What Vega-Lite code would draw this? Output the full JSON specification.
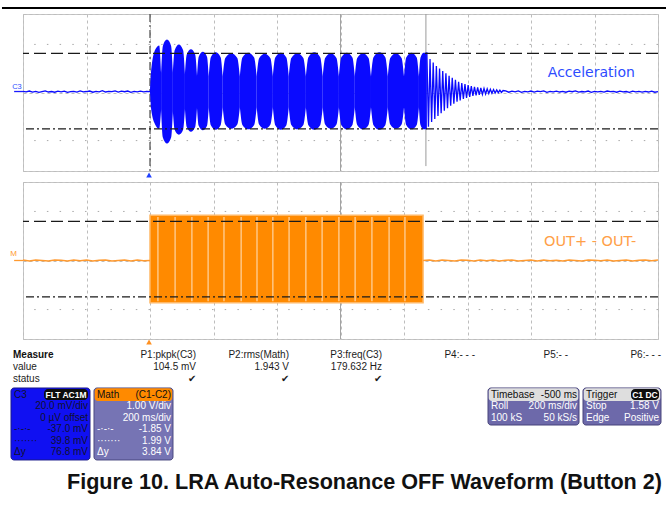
{
  "$schema": "https://vega.github.io/schema/vega-lite/v6.json",
  "background": "white",
  "padding": {"left": 0, "top": 6, "right": 5, "bottom": 16},
  "autosize": {"type": "pad"},
  "bounds": "flush",
  "spacing": 11,
  "title": {
    "text": "Figure 10. LRA Auto-Resonance OFF Waveform (Button 2)",
    "orient": "bottom", "anchor": "end", "frame": "group", "dx": 4, "offset": 12,
    "font": "Liberation Sans", "fontSize": 21.6, "fontWeight": "bold", "color": "#111111"
  },
  "config": {
    "view": {"stroke": "#c6c6c6", "strokeWidth": 1},
    "axis": {"labels": false, "ticks": false, "domain": false, "grid": true, "gridColor": "#bdbdbd", "gridDash": [3, 3], "gridWidth": 1},
    "font": "Liberation Sans"
  },
  "datasets": {
    "accel_lobes": [
      {"lobe": 1, "t": 0, "hi": 1.5, "lo": 0}, {"lobe": 1, "t": 4, "hi": 24, "lo": -18}, {"lobe": 1, "t": 17, "hi": 44, "lo": -33}, {"lobe": 1, "t": 29, "hi": 48, "lo": -37}, {"lobe": 1, "t": 35, "hi": 20, "lo": -17},
      {"lobe": 2, "t": 35, "hi": 20, "lo": -17}, {"lobe": 2, "t": 40.5, "hi": 47.5, "lo": -45.8}, {"lobe": 2, "t": 53.5, "hi": 54, "lo": -52}, {"lobe": 2, "t": 66.5, "hi": 47.5, "lo": -45.8}, {"lobe": 2, "t": 72, "hi": 20.5, "lo": -19},
      {"lobe": 3, "t": 72, "hi": 20.5, "lo": -19}, {"lobe": 3, "t": 77.7, "hi": 43, "lo": -38}, {"lobe": 3, "t": 91, "hi": 49, "lo": -43}, {"lobe": 3, "t": 104.3, "hi": 43, "lo": -38}, {"lobe": 3, "t": 110, "hi": 18.6, "lo": -16.6},
      {"lobe": 4, "t": 110, "hi": 18.6, "lo": -16.6}, {"lobe": 4, "t": 115.7, "hi": 38.7, "lo": -35.2}, {"lobe": 4, "t": 129, "hi": 44, "lo": -40}, {"lobe": 4, "t": 142.3, "hi": 38.7, "lo": -35.2}, {"lobe": 4, "t": 148, "hi": 17.1, "lo": -15.7},
      {"lobe": 5, "t": 148, "hi": 17.1, "lo": -15.7}, {"lobe": 5, "t": 153.5, "hi": 36.5, "lo": -33.9}, {"lobe": 5, "t": 166.5, "hi": 41.5, "lo": -38.5}, {"lobe": 5, "t": 179.5, "hi": 36.5, "lo": -33.9}, {"lobe": 5, "t": 185, "hi": 16.5, "lo": -15.3},
      {"lobe": 6, "t": 185, "hi": 16.5, "lo": -15.3}, {"lobe": 6, "t": 191.6, "hi": 36, "lo": -33.4}, {"lobe": 6, "t": 207, "hi": 41, "lo": -38}, {"lobe": 6, "t": 222.4, "hi": 36, "lo": -33.4}, {"lobe": 6, "t": 229, "hi": 16.2, "lo": -15},
      {"lobe": 7, "t": 229, "hi": 16.2, "lo": -15}, {"lobe": 7, "t": 237.1, "hi": 35.2, "lo": -32.6}, {"lobe": 7, "t": 256, "hi": 40, "lo": -37}, {"lobe": 7, "t": 274.9, "hi": 35.2, "lo": -32.6}, {"lobe": 7, "t": 283, "hi": 16.2, "lo": -15},
      {"lobe": 8, "t": 283, "hi": 16.2, "lo": -15}, {"lobe": 8, "t": 291, "hi": 35.6, "lo": -33}, {"lobe": 8, "t": 309.5, "hi": 40.5, "lo": -37.5}, {"lobe": 8, "t": 328, "hi": 35.6, "lo": -33}, {"lobe": 8, "t": 336, "hi": 16.2, "lo": -15},
      {"lobe": 9, "t": 336, "hi": 16.2, "lo": -15}, {"lobe": 9, "t": 343.7, "hi": 34.8, "lo": -32.6}, {"lobe": 9, "t": 361.5, "hi": 39.5, "lo": -37}, {"lobe": 9, "t": 379.3, "hi": 34.8, "lo": -32.6}, {"lobe": 9, "t": 387, "hi": 16.2, "lo": -15},
      {"lobe": 10, "t": 387, "hi": 16.2, "lo": -15}, {"lobe": 10, "t": 394.5, "hi": 35.6, "lo": -33.4}, {"lobe": 10, "t": 412, "hi": 40.5, "lo": -38}, {"lobe": 10, "t": 429.5, "hi": 35.6, "lo": -33.4}, {"lobe": 10, "t": 437, "hi": 16.2, "lo": -15},
      {"lobe": 11, "t": 437, "hi": 16.2, "lo": -15}, {"lobe": 11, "t": 445.1, "hi": 35.2, "lo": -33}, {"lobe": 11, "t": 464, "hi": 40, "lo": -37.5}, {"lobe": 11, "t": 482.9, "hi": 35.2, "lo": -33}, {"lobe": 11, "t": 491, "hi": 16.2, "lo": -15},
      {"lobe": 12, "t": 491, "hi": 16.2, "lo": -15}, {"lobe": 12, "t": 499, "hi": 36, "lo": -33.4}, {"lobe": 12, "t": 517.5, "hi": 41, "lo": -38}, {"lobe": 12, "t": 536, "hi": 36, "lo": -33.4}, {"lobe": 12, "t": 544, "hi": 16.2, "lo": -15},
      {"lobe": 13, "t": 544, "hi": 16.2, "lo": -15}, {"lobe": 13, "t": 551.7, "hi": 35.2, "lo": -32.6}, {"lobe": 13, "t": 569.5, "hi": 40, "lo": -37}, {"lobe": 13, "t": 587.3, "hi": 35.2, "lo": -32.6}, {"lobe": 13, "t": 595, "hi": 16.2, "lo": -15},
      {"lobe": 14, "t": 595, "hi": 16.2, "lo": -15}, {"lobe": 14, "t": 602.5, "hi": 35.6, "lo": -33}, {"lobe": 14, "t": 620, "hi": 40.5, "lo": -37.5}, {"lobe": 14, "t": 637.5, "hi": 35.6, "lo": -33}, {"lobe": 14, "t": 645, "hi": 16.2, "lo": -15},
      {"lobe": 15, "t": 645, "hi": 16.2, "lo": -15}, {"lobe": 15, "t": 652.7, "hi": 35.2, "lo": -33}, {"lobe": 15, "t": 670.5, "hi": 40, "lo": -37.5}, {"lobe": 15, "t": 688.3, "hi": 35.2, "lo": -33}, {"lobe": 15, "t": 696, "hi": 16.2, "lo": -15},
      {"lobe": 16, "t": 696, "hi": 16.2, "lo": -15}, {"lobe": 16, "t": 704, "hi": 36, "lo": -33.4}, {"lobe": 16, "t": 722.5, "hi": 41, "lo": -38}, {"lobe": 16, "t": 741, "hi": 36, "lo": -33.4}, {"lobe": 16, "t": 749, "hi": 16.2, "lo": -15},
      {"lobe": 17, "t": 749, "hi": 16.2, "lo": -15}, {"lobe": 17, "t": 756.7, "hi": 35.2, "lo": -32.6}, {"lobe": 17, "t": 774.5, "hi": 40, "lo": -37}, {"lobe": 17, "t": 792.3, "hi": 35.2, "lo": -32.6}, {"lobe": 17, "t": 800, "hi": 16.2, "lo": -15},
      {"lobe": 18, "t": 800, "hi": 16.2, "lo": -15}, {"lobe": 18, "t": 807, "hi": 35.6, "lo": -33}, {"lobe": 18, "t": 823.5, "hi": 40.5, "lo": -37.5}, {"lobe": 18, "t": 840, "hi": 35.6, "lo": -33}, {"lobe": 18, "t": 847, "hi": 16.2, "lo": -15},
      {"lobe": 19, "t": 847, "hi": 16.2, "lo": -15}, {"lobe": 19, "t": 852, "hi": 35.6, "lo": -33}, {"lobe": 19, "t": 862, "hi": 40.5, "lo": -37.5}, {"lobe": 19, "t": 872, "hi": 40.5, "lo": -37.5}
    ],
    "accel_trace": [
      {"seg": "pre", "t": -400, "v": 1.2}, {"seg": "pre", "t": -390, "v": 0.6}, {"seg": "pre", "t": -380, "v": 1.5}, {"seg": "pre", "t": -370, "v": 0.4}, {"seg": "pre", "t": -360, "v": 1.1},
      {"seg": "pre", "t": -350, "v": 0.2}, {"seg": "pre", "t": -340, "v": 0.9}, {"seg": "pre", "t": -330, "v": 1.6}, {"seg": "pre", "t": -320, "v": 0.5}, {"seg": "pre", "t": -310, "v": 1.0},
      {"seg": "pre", "t": -300, "v": 0.3}, {"seg": "pre", "t": -290, "v": 1.3}, {"seg": "pre", "t": -280, "v": 0.7}, {"seg": "pre", "t": -270, "v": 1.4}, {"seg": "pre", "t": -260, "v": 0.1},
      {"seg": "pre", "t": -250, "v": 0.8}, {"seg": "pre", "t": -240, "v": 1.2}, {"seg": "pre", "t": -230, "v": 0.4}, {"seg": "pre", "t": -220, "v": 1.7}, {"seg": "pre", "t": -210, "v": 0.6},
      {"seg": "pre", "t": -200, "v": 1.0}, {"seg": "pre", "t": -190, "v": 1.5}, {"seg": "pre", "t": -180, "v": 0.3}, {"seg": "pre", "t": -170, "v": 1.1}, {"seg": "pre", "t": -160, "v": 0.7},
      {"seg": "pre", "t": -150, "v": 1.8}, {"seg": "pre", "t": -140, "v": 0.5}, {"seg": "pre", "t": -130, "v": 1.2}, {"seg": "pre", "t": -120, "v": 0.9}, {"seg": "pre", "t": -110, "v": 1.6},
      {"seg": "pre", "t": -100, "v": 0.4}, {"seg": "pre", "t": -90, "v": 1.3}, {"seg": "pre", "t": -80, "v": 0.8}, {"seg": "pre", "t": -70, "v": 1.5}, {"seg": "pre", "t": -60, "v": 0.2},
      {"seg": "pre", "t": -50, "v": 1.1}, {"seg": "pre", "t": -40, "v": 0.7}, {"seg": "pre", "t": -30, "v": 1.4}, {"seg": "pre", "t": -20, "v": 0.6}, {"seg": "pre", "t": -10, "v": 1.2},
      {"seg": "pre", "t": 0, "v": 0.8},
      {"seg": "tail", "t": 872, "v": 41}, {"seg": "tail", "t": 877, "v": -35}, {"seg": "tail", "t": 882, "v": 34}, {"seg": "tail", "t": 887, "v": -30}, {"seg": "tail", "t": 892, "v": 30.5},
      {"seg": "tail", "t": 897, "v": -27}, {"seg": "tail", "t": 902, "v": 27}, {"seg": "tail", "t": 907, "v": -24}, {"seg": "tail", "t": 912, "v": 24.5}, {"seg": "tail", "t": 917, "v": -21},
      {"seg": "tail", "t": 922, "v": 22}, {"seg": "tail", "t": 927, "v": -18.5}, {"seg": "tail", "t": 932, "v": 19.5}, {"seg": "tail", "t": 937, "v": -16}, {"seg": "tail", "t": 942, "v": 17},
      {"seg": "tail", "t": 947, "v": -13.5}, {"seg": "tail", "t": 952, "v": 15}, {"seg": "tail", "t": 957, "v": -11.5}, {"seg": "tail", "t": 962, "v": 13}, {"seg": "tail", "t": 967, "v": -9.5},
      {"seg": "tail", "t": 972, "v": 11}, {"seg": "tail", "t": 977, "v": -8}, {"seg": "tail", "t": 982, "v": 9.5}, {"seg": "tail", "t": 987, "v": -6.5}, {"seg": "tail", "t": 992, "v": 8.5},
      {"seg": "tail", "t": 997, "v": -5.5}, {"seg": "tail", "t": 1002, "v": 7.5}, {"seg": "tail", "t": 1007, "v": -4.5}, {"seg": "tail", "t": 1012, "v": 6.5}, {"seg": "tail", "t": 1017, "v": -3.5},
      {"seg": "tail", "t": 1022, "v": 5.8}, {"seg": "tail", "t": 1027, "v": -3}, {"seg": "tail", "t": 1032, "v": 5.2}, {"seg": "tail", "t": 1037, "v": -2.4}, {"seg": "tail", "t": 1042, "v": 4.6},
      {"seg": "tail", "t": 1047, "v": -1.9}, {"seg": "tail", "t": 1052, "v": 4.1}, {"seg": "tail", "t": 1057, "v": -1.5}, {"seg": "tail", "t": 1062, "v": 3.7}, {"seg": "tail", "t": 1067, "v": -1.1},
      {"seg": "tail", "t": 1072, "v": 3.3}, {"seg": "tail", "t": 1077, "v": -0.8}, {"seg": "tail", "t": 1082, "v": 3}, {"seg": "tail", "t": 1087, "v": -0.5}, {"seg": "tail", "t": 1092, "v": 2.6},
      {"seg": "tail", "t": 1097, "v": -0.2}, {"seg": "tail", "t": 1102, "v": 2.3}, {"seg": "tail", "t": 1107, "v": 0.1}, {"seg": "tail", "t": 1112, "v": 2.0},
      {"seg": "tail", "t": 1120, "v": 1.6}, {"seg": "tail", "t": 1130, "v": 0.3}, {"seg": "tail", "t": 1140, "v": 1.3}, {"seg": "tail", "t": 1150, "v": 0.6}, {"seg": "tail", "t": 1160, "v": 1.7},
      {"seg": "tail", "t": 1170, "v": 0.2}, {"seg": "tail", "t": 1180, "v": 1.2}, {"seg": "tail", "t": 1190, "v": 0.7}, {"seg": "tail", "t": 1200, "v": 1.5}, {"seg": "tail", "t": 1210, "v": 0.4},
      {"seg": "tail", "t": 1220, "v": 1.3}, {"seg": "tail", "t": 1230, "v": 0.9}, {"seg": "tail", "t": 1240, "v": 1.6}, {"seg": "tail", "t": 1250, "v": 0.2}, {"seg": "tail", "t": 1260, "v": 1.1},
      {"seg": "tail", "t": 1270, "v": 0.7}, {"seg": "tail", "t": 1280, "v": 1.4}, {"seg": "tail", "t": 1290, "v": 0.5}, {"seg": "tail", "t": 1300, "v": 1.2}, {"seg": "tail", "t": 1310, "v": 0.3},
      {"seg": "tail", "t": 1320, "v": 1.4}, {"seg": "tail", "t": 1330, "v": 0.8}, {"seg": "tail", "t": 1340, "v": 1.6}, {"seg": "tail", "t": 1350, "v": 0.4}, {"seg": "tail", "t": 1360, "v": 1.0},
      {"seg": "tail", "t": 1370, "v": 0.6}, {"seg": "tail", "t": 1380, "v": 1.5}, {"seg": "tail", "t": 1390, "v": 0.2}, {"seg": "tail", "t": 1400, "v": 1.2}, {"seg": "tail", "t": 1410, "v": 0.7},
      {"seg": "tail", "t": 1420, "v": 1.1}, {"seg": "tail", "t": 1430, "v": 0.4}, {"seg": "tail", "t": 1440, "v": 1.5}, {"seg": "tail", "t": 1450, "v": 0.8}, {"seg": "tail", "t": 1460, "v": 1.2},
      {"seg": "tail", "t": 1470, "v": 0.3}, {"seg": "tail", "t": 1480, "v": 1.3}, {"seg": "tail", "t": 1490, "v": 0.6}, {"seg": "tail", "t": 1500, "v": 1.0}, {"seg": "tail", "t": 1510, "v": 0.2},
      {"seg": "tail", "t": 1520, "v": 1.4}, {"seg": "tail", "t": 1530, "v": 0.7}, {"seg": "tail", "t": 1540, "v": 1.1}, {"seg": "tail", "t": 1550, "v": 0.4}, {"seg": "tail", "t": 1560, "v": 1.2},
      {"seg": "tail", "t": 1570, "v": 0.5}, {"seg": "tail", "t": 1580, "v": 1.4}, {"seg": "tail", "t": 1590, "v": 0.3}, {"seg": "tail", "t": 1600, "v": 0.9}
    ],
    "math_trace": [
      {"seg": "pre", "t": -400, "v": 0.02}, {"seg": "pre", "t": -380, "v": -0.02}, {"seg": "pre", "t": -360, "v": 0.03}, {"seg": "pre", "t": -340, "v": 0.0}, {"seg": "pre", "t": -320, "v": -0.03},
      {"seg": "pre", "t": -300, "v": 0.02}, {"seg": "pre", "t": -280, "v": 0.01}, {"seg": "pre", "t": -260, "v": -0.02}, {"seg": "pre", "t": -240, "v": 0.03}, {"seg": "pre", "t": -220, "v": -0.01},
      {"seg": "pre", "t": -200, "v": 0.02}, {"seg": "pre", "t": -180, "v": -0.03}, {"seg": "pre", "t": -160, "v": 0.01}, {"seg": "pre", "t": -140, "v": 0.03}, {"seg": "pre", "t": -120, "v": -0.02},
      {"seg": "pre", "t": -100, "v": 0.0}, {"seg": "pre", "t": -80, "v": 0.02}, {"seg": "pre", "t": -60, "v": -0.02}, {"seg": "pre", "t": -40, "v": 0.03}, {"seg": "pre", "t": -20, "v": -0.01},
      {"seg": "pre", "t": 0, "v": 0.0},
      {"seg": "post", "t": 860, "v": 0.0}, {"seg": "post", "t": 880, "v": 0.02}, {"seg": "post", "t": 900, "v": -0.02}, {"seg": "post", "t": 920, "v": 0.03}, {"seg": "post", "t": 940, "v": 0.0},
      {"seg": "post", "t": 960, "v": -0.03}, {"seg": "post", "t": 980, "v": 0.02}, {"seg": "post", "t": 1000, "v": 0.01}, {"seg": "post", "t": 1020, "v": -0.02}, {"seg": "post", "t": 1040, "v": 0.03},
      {"seg": "post", "t": 1060, "v": -0.01}, {"seg": "post", "t": 1080, "v": 0.02}, {"seg": "post", "t": 1100, "v": -0.03}, {"seg": "post", "t": 1120, "v": 0.01}, {"seg": "post", "t": 1140, "v": 0.03},
      {"seg": "post", "t": 1160, "v": -0.02}, {"seg": "post", "t": 1180, "v": 0.0}, {"seg": "post", "t": 1200, "v": 0.02}, {"seg": "post", "t": 1220, "v": -0.02}, {"seg": "post", "t": 1240, "v": 0.03},
      {"seg": "post", "t": 1260, "v": -0.01}, {"seg": "post", "t": 1280, "v": 0.01}, {"seg": "post", "t": 1300, "v": -0.03}, {"seg": "post", "t": 1320, "v": 0.02}, {"seg": "post", "t": 1340, "v": 0.0},
      {"seg": "post", "t": 1360, "v": -0.02}, {"seg": "post", "t": 1380, "v": 0.03}, {"seg": "post", "t": 1400, "v": 0.01}, {"seg": "post", "t": 1420, "v": -0.01}, {"seg": "post", "t": 1440, "v": 0.02},
      {"seg": "post", "t": 1460, "v": -0.03}, {"seg": "post", "t": 1480, "v": 0.0}, {"seg": "post", "t": 1500, "v": 0.03}, {"seg": "post", "t": 1520, "v": -0.02}, {"seg": "post", "t": 1540, "v": 0.01},
      {"seg": "post", "t": 1560, "v": 0.02}, {"seg": "post", "t": 1580, "v": -0.01}, {"seg": "post", "t": 1600, "v": 0.02}
    ],
    "math_burst": [
      {"t": 0, "hi": 2.3, "lo": -2.15},
      {"t": 860, "hi": 2.3, "lo": -2.15}
    ],
    "math_gaps": [
      {"t": 25}, {"t": 79}, {"t": 132}, {"t": 183}, {"t": 233}, {"t": 287}, {"t": 337}, {"t": 387},
      {"t": 438}, {"t": 491}, {"t": 542}, {"t": 595}, {"t": 646}, {"t": 699}, {"t": 753}, {"t": 803}
    ],
    "measure": [
      {"param": "label", "row": "head", "text": "Measure"},
      {"param": "label", "row": "value", "text": "value"},
      {"param": "label", "row": "status", "text": "status"},
      {"param": "P1", "row": "head", "text": "P1:pkpk(C3)"},
      {"param": "P1", "row": "value", "text": "104.5 mV"},
      {"param": "P1", "row": "status", "text": "✔"},
      {"param": "P2", "row": "head", "text": "P2:rms(Math)"},
      {"param": "P2", "row": "value", "text": "1.943 V"},
      {"param": "P2", "row": "status", "text": "✔"},
      {"param": "P3", "row": "head", "text": "P3:freq(C3)"},
      {"param": "P3", "row": "value", "text": "179.632 Hz"},
      {"param": "P3", "row": "status", "text": "✔"},
      {"param": "P4", "row": "head", "text": "P4:- - -"},
      {"param": "P5", "row": "head", "text": "P5:- -"},
      {"param": "P6", "row": "head", "text": "P6:- - -"}
    ],
    "boxtext": [
      {"box": "C3", "row": 0, "col": "label", "text": "C3"},
      {"box": "C3", "row": 0, "col": "badge", "text": "FLT AC1M"},
      {"box": "C3", "row": 1, "col": "value", "text": "20.0 mV/div"},
      {"box": "C3", "row": 2, "col": "value", "text": "0 µV offset"},
      {"box": "C3", "row": 3, "col": "label", "text": "-·-·-"},
      {"box": "C3", "row": 3, "col": "value", "text": "-37.0 mV"},
      {"box": "C3", "row": 4, "col": "label", "text": "·······"},
      {"box": "C3", "row": 4, "col": "value", "text": "39.8 mV"},
      {"box": "C3", "row": 5, "col": "label", "text": "Δy"},
      {"box": "C3", "row": 5, "col": "value", "text": "76.8 mV"},
      {"box": "Math", "row": 0, "col": "label", "text": "Math"},
      {"box": "Math", "row": 0, "col": "value", "text": "(C1-C2)"},
      {"box": "Math", "row": 1, "col": "value", "text": "1.00 V/div"},
      {"box": "Math", "row": 2, "col": "value", "text": "200 ms/div"},
      {"box": "Math", "row": 3, "col": "label", "text": "-·-·-"},
      {"box": "Math", "row": 3, "col": "value", "text": "-1.85 V"},
      {"box": "Math", "row": 4, "col": "label", "text": "·······"},
      {"box": "Math", "row": 4, "col": "value", "text": "1.99 V"},
      {"box": "Math", "row": 5, "col": "label", "text": "Δy"},
      {"box": "Math", "row": 5, "col": "value", "text": "3.84 V"},
      {"box": "Timebase", "row": 0, "col": "label", "text": "Timebase"},
      {"box": "Timebase", "row": 0, "col": "value", "text": "-500 ms"},
      {"box": "Timebase", "row": 1, "col": "label", "text": "Roll"},
      {"box": "Timebase", "row": 1, "col": "value", "text": "200 ms/div"},
      {"box": "Timebase", "row": 2, "col": "label", "text": "100 kS"},
      {"box": "Timebase", "row": 2, "col": "value", "text": "50 kS/s"},
      {"box": "Trigger", "row": 0, "col": "label", "text": "Trigger"},
      {"box": "Trigger", "row": 0, "col": "badge", "text": "C1 DC"},
      {"box": "Trigger", "row": 1, "col": "label", "text": "Stop"},
      {"box": "Trigger", "row": 1, "col": "value", "text": "1.58 V"},
      {"box": "Trigger", "row": 2, "col": "label", "text": "Edge"},
      {"box": "Trigger", "row": 2, "col": "value", "text": "Positive"}
    ]
  },
  "vconcat": [
    {
      "width": 635,
      "height": 157,
      "layer": [
        {"data": {"values": [{}]}, "mark": {"type": "rule", "color": "#a9a9a9", "strokeDash": [1.5, 11.2]}, "encoding": {"y": {"datum": 49}}},
        {"data": {"values": [{}]}, "mark": {"type": "rule", "color": "#a9a9a9", "strokeDash": [1.5, 11.2]}, "encoding": {"y": {"datum": -49}}},
        {"data": {"values": [{}]}, "mark": {"type": "rule", "color": "#a3a3a3", "strokeWidth": 1}, "encoding": {"x": {"datum": 600}}},
        {"data": {"values": [{}]}, "mark": {"type": "rule", "color": "#9a9a9a", "strokeWidth": 1}, "encoding": {"x": {"datum": 869}, "y": {"datum": 80}, "y2": {"datum": -75}}},
        {"data": {"values": [{}]}, "mark": {"type": "rule", "color": "#4a4a4a", "strokeWidth": 1.2, "strokeDash": [8, 3, 2, 3]}, "encoding": {"x": {"datum": 0}}},
        {"data": {"values": [{}]}, "mark": {"type": "rule", "color": "#1a1aff", "strokeWidth": 1.3}, "encoding": {"x": {"datum": -428}, "x2": {"datum": -400}, "y": {"datum": 1}}},
        {
          "data": {"name": "accel_lobes"},
          "mark": {"type": "area", "color": "#0a0aff", "interpolate": "monotone"},
          "encoding": {
            "x": {"field": "t", "type": "quantitative", "title": null,
                  "scale": {"domain": [-400, 1600], "nice": false, "zero": false},
                  "axis": {"values": [-400, -200, 0, 200, 400, 600, 800, 1000, 1200, 1400, 1600], "grid": true, "labels": false, "ticks": false, "domain": false}},
            "y": {"field": "hi", "type": "quantitative", "title": null,
                  "scale": {"domain": [-80, 80], "nice": false, "zero": false},
                  "axis": {"values": [-80, -60, -40, -20, 0, 20, 40, 60, 80], "grid": true, "labels": false, "ticks": false, "domain": false}},
            "y2": {"field": "lo"},
            "detail": {"field": "lobe", "type": "nominal"}
          }
        },
        {
          "data": {"name": "accel_trace"},
          "mark": {"type": "line", "color": "#0a0aff", "strokeWidth": 1.3},
          "encoding": {
            "x": {"field": "t", "type": "quantitative", "title": null},
            "y": {"field": "v", "type": "quantitative", "title": null},
            "detail": {"field": "seg", "type": "nominal"}
          }
        },
        {"data": {"values": [{}]}, "mark": {"type": "rule", "color": "#1a1a1a", "strokeWidth": 1.3, "strokeDash": [12, 5]}, "encoding": {"y": {"datum": 39.8}}},
        {"data": {"values": [{}]}, "mark": {"type": "rule", "color": "#1a1a1a", "strokeWidth": 1.3, "strokeDash": [8, 3, 2, 3]}, "encoding": {"y": {"datum": -37.0}}},
        {"data": {"values": [{}]}, "mark": {"type": "text", "text": "C3", "font": "Liberation Sans", "fontSize": 7.5, "color": "#2c4cff", "align": "center", "baseline": "middle"}, "encoding": {"x": {"datum": -419}, "y": {"datum": 5.6}}},
        {"data": {"values": [{}]}, "mark": {"type": "text", "text": "Acceleration", "font": "DejaVu Sans", "fontSize": 14, "color": "#2d4cff", "align": "left", "baseline": "middle"}, "encoding": {"x": {"datum": 1253}, "y": {"datum": 20.2}}},
        {"data": {"values": [{}]}, "mark": {"type": "point", "shape": "triangle-up", "filled": true, "size": 32, "color": "#2040ff", "opacity": 1}, "encoding": {"x": {"datum": -3}, "y": {"datum": -84.1}}},
        {"data": {"values": [{}]}, "mark": {"type": "rule", "color": "#000000", "strokeWidth": 2}, "encoding": {"x": {"datum": -466.2}, "x2": {"datum": 1625.2}, "y": {"datum": 86.2}}}
      ]
    },
    {
      "width": 635,
      "height": 157,
      "layer": [
        {"data": {"values": [{}]}, "mark": {"type": "rule", "color": "#a9a9a9", "strokeDash": [1.5, 11.2]}, "encoding": {"y": {"datum": 2.5}}},
        {"data": {"values": [{}]}, "mark": {"type": "rule", "color": "#a9a9a9", "strokeDash": [1.5, 11.2]}, "encoding": {"y": {"datum": -2.5}}},
        {"data": {"values": [{}]}, "mark": {"type": "rule", "color": "#a3a3a3", "strokeWidth": 1}, "encoding": {"x": {"datum": 600}}},
        {"data": {"values": [{}]}, "mark": {"type": "rule", "color": "#ff9a30", "strokeWidth": 1.3}, "encoding": {"x": {"datum": -428}, "x2": {"datum": -400}, "y": {"datum": 0}}},
        {
          "data": {"name": "math_burst"},
          "mark": {"type": "area", "color": "#ff8a00", "stroke": "#ffb866", "strokeWidth": 1.5},
          "encoding": {
            "x": {"field": "t", "type": "quantitative", "title": null,
                  "scale": {"domain": [-400, 1600], "nice": false, "zero": false},
                  "axis": {"values": [-400, -200, 0, 200, 400, 600, 800, 1000, 1200, 1400, 1600], "grid": true, "labels": false, "ticks": false, "domain": false}},
            "y": {"field": "hi", "type": "quantitative", "title": null,
                  "scale": {"domain": [-4, 4], "nice": false, "zero": false},
                  "axis": {"values": [-4, -3, -2, -1, 0, 1, 2, 3, 4], "grid": true, "labels": false, "ticks": false, "domain": false}},
            "y2": {"field": "lo"}
          }
        },
        {
          "data": {"name": "math_gaps"},
          "mark": {"type": "rule", "color": "#ffffff", "strokeWidth": 1.1, "opacity": 0.7},
          "encoding": {
            "x": {"field": "t", "type": "quantitative", "title": null},
            "y": {"datum": 2.22},
            "y2": {"datum": -2.08}
          }
        },
        {
          "data": {"name": "math_trace"},
          "mark": {"type": "line", "color": "#ff9a30", "strokeWidth": 1.5},
          "encoding": {
            "x": {"field": "t", "type": "quantitative", "title": null},
            "y": {"field": "v", "type": "quantitative", "title": null},
            "detail": {"field": "seg", "type": "nominal"}
          }
        },
        {"data": {"values": [{}]}, "mark": {"type": "rule", "color": "#1a1a1a", "strokeWidth": 1.3, "strokeDash": [12, 5]}, "encoding": {"y": {"datum": 1.99}}},
        {"data": {"values": [{}]}, "mark": {"type": "rule", "color": "#1a1a1a", "strokeWidth": 1.3, "strokeDash": [8, 3, 2, 3]}, "encoding": {"y": {"datum": -1.85}}},
        {"data": {"values": [{}]}, "mark": {"type": "text", "text": "M", "font": "Liberation Sans", "fontSize": 8, "color": "#ff9a30", "align": "center", "baseline": "middle"}, "encoding": {"x": {"datum": -430}, "y": {"datum": 0.33}}},
        {"data": {"values": [{}]}, "mark": {"type": "text", "text": "OUT+ - OUT-", "font": "DejaVu Sans", "fontSize": 14.5, "color": "#ffa048", "align": "left", "baseline": "middle"}, "encoding": {"x": {"datum": 1241}, "y": {"datum": 0.94}}},
        {"data": {"values": [{}]}, "mark": {"type": "point", "shape": "triangle-up", "filled": true, "size": 32, "color": "#ff9020", "opacity": 1}, "encoding": {"x": {"datum": -3}, "y": {"datum": -4.15}}}
      ]
    },
    {
      "width": 635,
      "height": 110,
      "view": {"stroke": null},
      "resolve": {"scale": {"x": "independent", "y": "independent"}},
      "layer": [
        {
          "data": {"name": "measure"},
          "layer": [
            {
              "transform": [{"filter": "datum.param !== 'label'"}],
              "mark": {"type": "text", "align": "right", "baseline": "middle", "font": "Liberation Sans", "fontSize": 10, "color": "#1c1c1c"},
              "encoding": {
                "x": {"field": "param", "type": "nominal", "axis": null,
                      "scale": {"type": "point", "domain": ["label", "gap", "P1", "P2", "P3", "P4", "P5", "P6"], "range": [-13, 638], "padding": 0}},
                "y": {"field": "row", "type": "nominal", "axis": null,
                      "scale": {"type": "point", "domain": ["head", "value", "status"], "range": [5, 29], "padding": 0}},
                "text": {"field": "text"}
              }
            },
            {
              "transform": [{"filter": "datum.param === 'label' && datum.row === 'head'"}],
              "mark": {"type": "text", "align": "left", "baseline": "middle", "dx": 3, "font": "Liberation Sans", "fontSize": 10, "fontWeight": "bold", "color": "#111111"},
              "encoding": {
                "x": {"field": "param", "type": "nominal", "axis": null},
                "y": {"field": "row", "type": "nominal", "axis": null},
                "text": {"field": "text"}
              }
            },
            {
              "transform": [{"filter": "datum.param === 'label' && datum.row !== 'head'"}],
              "mark": {"type": "text", "align": "left", "baseline": "middle", "dx": 3, "font": "Liberation Sans", "fontSize": 10, "color": "#1c1c1c"},
              "encoding": {
                "x": {"field": "param", "type": "nominal", "axis": null},
                "y": {"field": "row", "type": "nominal", "axis": null},
                "text": {"field": "text"}
              }
            }
          ]
        },
        {
          "layer": [
            {
              "data": {"values": [{}]},
              "mark": {"type": "rect", "color": "#1010f2", "stroke": "#1a1a8a", "strokeWidth": 1, "cornerRadius": 3},
              "encoding": {
                "x": {"datum": -0.189, "type": "quantitative", "axis": null, "scale": {"domain": [0, 10], "nice": false, "zero": false}},
                "x2": {"datum": 1.055},
                "y": {"datum": -0.614, "type": "quantitative", "axis": null, "scale": {"domain": [-3.947, 5.702], "reverse": true, "nice": false, "zero": false}},
                "y2": {"datum": 5.7}
              }
            },
            {"data": {"values": [{}]}, "mark": {"type": "rect", "color": "#7674b4", "stroke": "#4a4880", "strokeWidth": 1, "cornerRadius": 3}, "encoding": {"x": {"datum": 1.118, "axis": null}, "x2": {"datum": 2.362}, "y": {"datum": -0.614, "axis": null}, "y2": {"datum": 5.7}}},
            {"data": {"values": [{}]}, "mark": {"type": "rect", "color": "#ff8a00", "cornerRadius": 3}, "encoding": {"x": {"datum": 1.13, "axis": null}, "x2": {"datum": 2.35}, "y": {"datum": -0.6, "axis": null}, "y2": {"datum": 0.526}}},
            {"data": {"values": [{}]}, "mark": {"type": "rect", "color": "#6d69aa", "stroke": "#46437a", "strokeWidth": 1, "cornerRadius": 3}, "encoding": {"x": {"datum": 7.323, "axis": null}, "x2": {"datum": 8.756}, "y": {"datum": -0.614, "axis": null}, "y2": {"datum": 2.632}}},
            {"data": {"values": [{}]}, "mark": {"type": "rect", "color": "#dedede", "cornerRadius": 3}, "encoding": {"x": {"datum": 7.335, "axis": null}, "x2": {"datum": 8.744}, "y": {"datum": -0.6, "axis": null}, "y2": {"datum": 0.526}}},
            {"data": {"values": [{}]}, "mark": {"type": "rect", "color": "#6d69aa", "stroke": "#46437a", "strokeWidth": 1, "cornerRadius": 3}, "encoding": {"x": {"datum": 8.819, "axis": null}, "x2": {"datum": 10.047}, "y": {"datum": -0.614, "axis": null}, "y2": {"datum": 2.632}}},
            {"data": {"values": [{}]}, "mark": {"type": "rect", "color": "#dedede", "cornerRadius": 3}, "encoding": {"x": {"datum": 8.831, "axis": null}, "x2": {"datum": 10.035}, "y": {"datum": -0.6, "axis": null}, "y2": {"datum": 0.526}}},
            {"data": {"values": [{}]}, "mark": {"type": "rect", "color": "#0d0d0d", "cornerRadius": 4}, "encoding": {"x": {"datum": 0.331, "axis": null}, "x2": {"datum": 1.024}, "y": {"datum": -0.526, "axis": null}, "y2": {"datum": 0.439}}},
            {"data": {"values": [{}]}, "mark": {"type": "rect", "color": "#0d0d0d", "cornerRadius": 4}, "encoding": {"x": {"datum": 9.575, "axis": null}, "x2": {"datum": 10.016}, "y": {"datum": -0.526, "axis": null}, "y2": {"datum": 0.439}}},
            {
              "data": {"name": "boxtext"},
              "transform": [{"filter": "datum.box === 'C3' && datum.col === 'label'"}],
              "mark": {"type": "text", "align": "left", "baseline": "middle", "font": "Liberation Sans", "fontSize": 10},
              "encoding": {"x": {"datum": -0.142, "axis": null}, "y": {"field": "row", "type": "quantitative", "axis": null}, "text": {"field": "text"},
                           "color": {"condition": {"test": "datum.box === 'C3' || datum.row === 0", "value": "#101030"}, "value": "#ffffff"}}
            },
            {
              "data": {"name": "boxtext"},
              "transform": [{"filter": "datum.box === 'C3' && datum.col === 'value'"}],
              "mark": {"type": "text", "align": "right", "baseline": "middle", "font": "Liberation Sans", "fontSize": 10},
              "encoding": {"x": {"datum": 1.024, "axis": null}, "y": {"field": "row", "type": "quantitative", "axis": null}, "text": {"field": "text"},
                           "color": {"condition": {"test": "datum.box === 'C3' || datum.row === 0", "value": "#101030"}, "value": "#ffffff"}}
            },
            {
              "data": {"name": "boxtext"},
              "transform": [{"filter": "datum.box === 'Math' && datum.col === 'label'"}],
              "mark": {"type": "text", "align": "left", "baseline": "middle", "font": "Liberation Sans", "fontSize": 10},
              "encoding": {"x": {"datum": 1.165, "axis": null}, "y": {"field": "row", "type": "quantitative", "axis": null}, "text": {"field": "text"},
                           "color": {"condition": {"test": "datum.box === 'C3' || datum.row === 0", "value": "#111111"}, "value": "#ffffff"}}
            },
            {
              "data": {"name": "boxtext"},
              "transform": [{"filter": "datum.box === 'Math' && datum.col === 'value'"}],
              "mark": {"type": "text", "align": "right", "baseline": "middle", "font": "Liberation Sans", "fontSize": 10},
              "encoding": {"x": {"datum": 2.331, "axis": null}, "y": {"field": "row", "type": "quantitative", "axis": null}, "text": {"field": "text"},
                           "color": {"condition": {"test": "datum.box === 'C3' || datum.row === 0", "value": "#111111"}, "value": "#ffffff"}}
            },
            {
              "data": {"name": "boxtext"},
              "transform": [{"filter": "datum.box === 'Timebase' && datum.col === 'label'"}],
              "mark": {"type": "text", "align": "left", "baseline": "middle", "font": "Liberation Sans", "fontSize": 10},
              "encoding": {"x": {"datum": 7.37, "axis": null}, "y": {"field": "row", "type": "quantitative", "axis": null}, "text": {"field": "text"},
                           "color": {"condition": {"test": "datum.row === 0", "value": "#111111"}, "value": "#ffffff"}}
            },
            {
              "data": {"name": "boxtext"},
              "transform": [{"filter": "datum.box === 'Timebase' && datum.col === 'value'"}],
              "mark": {"type": "text", "align": "right", "baseline": "middle", "font": "Liberation Sans", "fontSize": 10},
              "encoding": {"x": {"datum": 8.724, "axis": null}, "y": {"field": "row", "type": "quantitative", "axis": null}, "text": {"field": "text"},
                           "color": {"condition": {"test": "datum.row === 0", "value": "#111111"}, "value": "#ffffff"}}
            },
            {
              "data": {"name": "boxtext"},
              "transform": [{"filter": "datum.box === 'Trigger' && datum.col === 'label'"}],
              "mark": {"type": "text", "align": "left", "baseline": "middle", "font": "Liberation Sans", "fontSize": 10},
              "encoding": {"x": {"datum": 8.866, "axis": null}, "y": {"field": "row", "type": "quantitative", "axis": null}, "text": {"field": "text"},
                           "color": {"condition": {"test": "datum.row === 0", "value": "#111111"}, "value": "#ffffff"}}
            },
            {
              "data": {"name": "boxtext"},
              "transform": [{"filter": "datum.box === 'Trigger' && datum.col === 'value'"}],
              "mark": {"type": "text", "align": "right", "baseline": "middle", "font": "Liberation Sans", "fontSize": 10},
              "encoding": {"x": {"datum": 10.016, "axis": null}, "y": {"field": "row", "type": "quantitative", "axis": null}, "text": {"field": "text"},
                           "color": {"condition": {"test": "datum.row === 0", "value": "#111111"}, "value": "#ffffff"}}
            },
            {
              "data": {"name": "boxtext"},
              "transform": [{"filter": "datum.box === 'C3' && datum.col === 'badge'"}],
              "mark": {"type": "text", "align": "center", "baseline": "middle", "font": "Liberation Sans", "fontSize": 8.5, "fontWeight": "bold", "color": "#ffffff"},
              "encoding": {"x": {"datum": 0.677, "axis": null}, "y": {"field": "row", "type": "quantitative", "axis": null}, "text": {"field": "text"}}
            },
            {
              "data": {"name": "boxtext"},
              "transform": [{"filter": "datum.box === 'Trigger' && datum.col === 'badge'"}],
              "mark": {"type": "text", "align": "center", "baseline": "middle", "font": "Liberation Sans", "fontSize": 8.5, "fontWeight": "bold", "color": "#ffffff"},
              "encoding": {"x": {"datum": 9.795, "axis": null}, "y": {"field": "row", "type": "quantitative", "axis": null}, "text": {"field": "text"}}
            }
          ]
        }
      ]
    }
  ]
}
